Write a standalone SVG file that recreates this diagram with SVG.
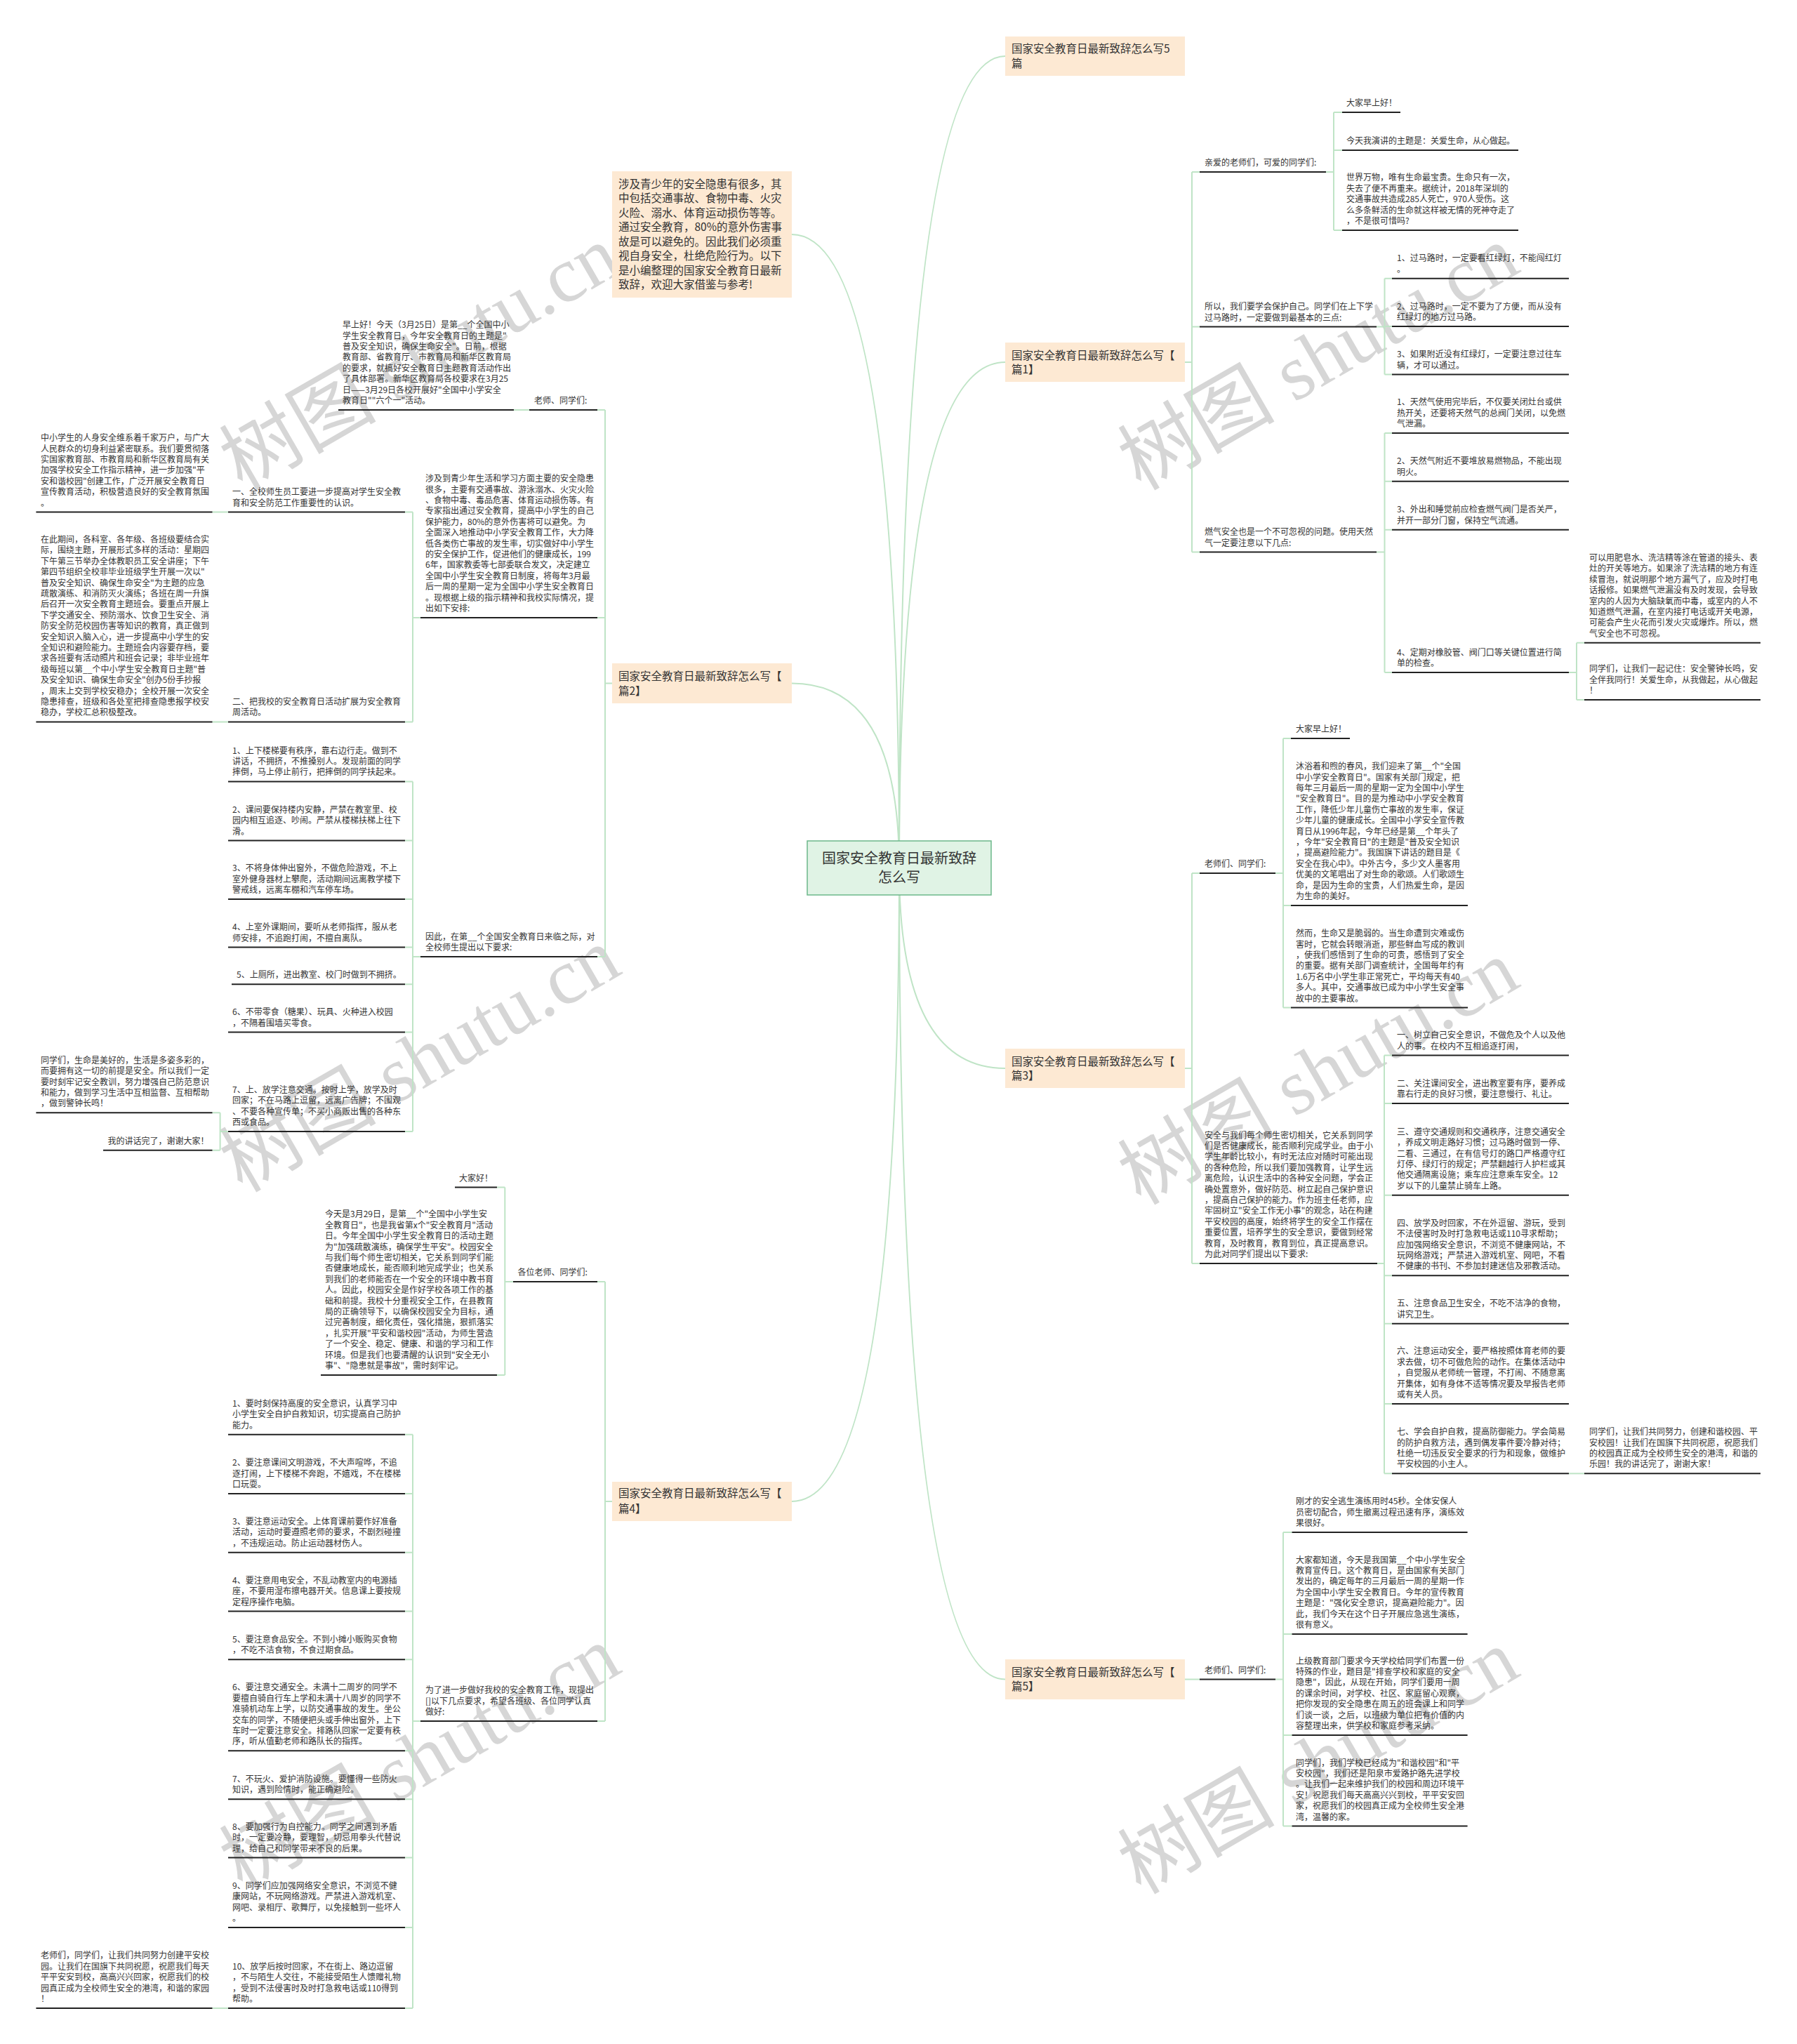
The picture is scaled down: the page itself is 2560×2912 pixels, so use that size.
<svg xmlns="http://www.w3.org/2000/svg" width="2560" height="2912" viewBox="0 0 2560 2912">
<style>
.t{font-family:"Noto Sans CJK SC","Liberation Sans",sans-serif;font-size:12px;fill:#333}
.h{font-family:"Noto Sans CJK SC","Liberation Sans",sans-serif;font-size:15.5px;fill:#333}
.c{font-family:"Noto Sans CJK SC","Liberation Sans",sans-serif;font-size:20px;fill:#333;text-anchor:middle}
.u{stroke:#222;stroke-width:2;fill:none}
.k{fill:none;stroke:#bfe4c6;stroke-width:2}
.b{fill:#fde9d3}
.w{font-family:"Liberation Serif","Noto Sans CJK SC",serif;font-size:112px;fill:#d6d6d6}
</style>
<rect width="2560" height="2912" fill="#ffffff"/>
<g id="watermarks">
<text class="w" transform="translate(345,700) rotate(-30)">树图 shutu.cn</text>
<text class="w" transform="translate(1625,700) rotate(-30)">树图 shutu.cn</text>
<text class="w" transform="translate(345,1700) rotate(-30)">树图 shutu.cn</text>
<text class="w" transform="translate(1625,1718) rotate(-30)">树图 shutu.cn</text>
<text class="w" transform="translate(345,2695) rotate(-30)">树图 shutu.cn</text>
<text class="w" transform="translate(1625,2700) rotate(-30)">树图 shutu.cn</text>
</g>
<g id="connectors">
<path class="k" d="M1281,1236 Q1281,80 1432,80"/>
<path class="k" d="M1281,1236 Q1281,516 1432,516"/>
<path class="k" d="M1281,1236 Q1281,1522 1432,1522"/>
<path class="k" d="M1281,1236 Q1281,2392.5 1432,2392.5"/>
<path class="k" d="M1281,1236 Q1281,334 1128,334"/>
<path class="k" d="M1281,1236 Q1281,973.5 1128,973.5"/>
<path class="k" d="M1281,1236 Q1281,2139 1128,2139"/>
<!-- pian1 -->
<path class="k" d="M1688,516 H1698 M1698,245 V786.5 M1698,245 H1709 M1698,465.6 H1709 M1698,786.5 H1709"/>
<path class="k" d="M1889,245 H1900 M1900,160 V328 M1900,160 H1912 M1900,214 H1912 M1900,328 H1912"/>
<path class="k" d="M1961,465.6 H1972.5 M1972.5,396.7 V533.6 M1972.5,396.7 H1983 M1972.5,465 H1983 M1972.5,533.6 H1983"/>
<path class="k" d="M1961,786.5 H1972.5 M1972.5,617 V958 M1972.5,617 H1983 M1972.5,685.7 H1983 M1972.5,754.7 H1983 M1972.5,958 H1983"/>
<path class="k" d="M2235,958 H2246 M2246,915.7 V997 M2246,915.7 H2257 M2246,997 H2257"/>
<!-- pian3 -->
<path class="k" d="M1688,1522 H1698 M1698,1244 V1800 M1698,1244 H1709 M1698,1800 H1709"/>
<path class="k" d="M1817,1244 H1828 M1828,1052 V1435.5 M1828,1052 H1839 M1828,1290 H1839 M1828,1435.5 H1839"/>
<path class="k" d="M1962,1800 H1972 M1972,1503.5 V2099.3 M1972,1503.5 H1983 M1972,1572 H1983 M1972,1702.7 H1983 M1972,1817.3 H1983 M1972,1885.7 H1983 M1972,2000 H1983 M1972,2099.3 H1983"/>
<path class="k" d="M2235,2099.3 H2257"/>
<!-- pian5 -->
<path class="k" d="M1687,2392.5 H1709"/>
<path class="k" d="M1817,2392.5 H1828 M1828,2183 V2601.5 M1828,2183 H1840.5 M1828,2328 H1840.5 M1828,2472 H1840.5 M1828,2601.5 H1840.5"/>
<!-- pian2 -->
<path class="k" d="M872,973.5 H862 M862,584 V1363 M862,584 H851 M862,880 H851 M862,1363 H851"/>
<path class="k" d="M754,584 H732"/>
<path class="k" d="M599,880 H588 M588,729.6 V1028.4 M588,729.6 H577 M588,1028.4 H577"/>
<path class="k" d="M325,729.6 H302.5 M325,1028.4 H302.5"/>
<path class="k" d="M599,1363 H588 M588,1113.4 V1612 M588,1113.4 H577 M588,1197.6 H577 M588,1281 H577 M588,1349.5 H577 M588,1402.3 H577 M588,1470.5 H577 M588,1612 H577"/>
<path class="k" d="M325,1612 H313.6 M313.6,1585.3 V1638.8 M313.6,1585.3 H302.5 M313.6,1638.8 H302.5"/>
<!-- pian4 -->
<path class="k" d="M872,2139 H862 M862,1826 V2452 M862,1826 H851 M862,2452 H851"/>
<path class="k" d="M731,1826 H719.3 M719.3,1691.5 V1959 M719.3,1691.5 H708 M719.3,1959 H708"/>
<path class="k" d="M599,2452 H588 M588,2043.8 V2861 M588,2043.8 H577 M588,2128 H577 M588,2211.8 H577 M588,2295.5 H577 M588,2364.2 H577 M588,2494.3 H577 M588,2563.2 H577 M588,2646.6 H577 M588,2746 H577 M588,2861 H577"/>
<path class="k" d="M325,2861 H302.5"/>
</g>
<g id="center">
<rect x="1150" y="1198" width="262" height="77" fill="#e0f3e5" stroke="#6cb88a" stroke-width="1.5"/>
<text class="c"><tspan x="1281" y="1230">国家安全教育日最新致辞</tspan><tspan x="1281" y="1257">怎么写</tspan></text>
</g>
<g id="intro">
<rect class="b" x="872" y="244" width="256" height="180"/>
<text class="h"><tspan x="881" y="267.5">涉及青少年的安全隐患有很多，其</tspan><tspan x="881" y="288">中包括交通事故、食物中毒、火灾</tspan><tspan x="881" y="308.5">火险、溺水、体育运动损伤等等。</tspan><tspan x="881" y="329">通过安全教育，80%的意外伤害事</tspan><tspan x="881" y="349.5">故是可以避免的。因此我们必须重</tspan><tspan x="881" y="370">视自身安全，杜绝危险行为。以下</tspan><tspan x="881" y="390.5">是小编整理的国家安全教育日最新</tspan><tspan x="881" y="411">致辞，欢迎大家借鉴与参考!</tspan></text>
</g>
<g id="pian5title">
<rect class="b" x="1432" y="52" width="256" height="56"/>
<text class="h"><tspan x="1441" y="74.5">国家安全教育日最新致辞怎么写5</tspan><tspan x="1441" y="95.5">篇</tspan></text>
</g>
<g id="pian1">
<rect class="b" x="1432" y="488" width="256" height="56"/>
<text class="h"><tspan x="1441" y="511.5">国家安全教育日最新致辞怎么写【</tspan><tspan x="1441" y="531.5">篇1】</tspan></text>
</g>
<g id="pian3">
<rect class="b" x="1432" y="1494" width="256" height="56"/>
<text class="h"><tspan x="1441" y="1517.5">国家安全教育日最新致辞怎么写【</tspan><tspan x="1441" y="1537.5">篇3】</tspan></text>
</g>
<g id="pian5">
<rect class="b" x="1432" y="2364" width="256" height="57"/>
<text class="h"><tspan x="1441" y="2387.5">国家安全教育日最新致辞怎么写【</tspan><tspan x="1441" y="2407.5">篇5】</tspan></text>
</g>
<g id="pian2">
<rect class="b" x="872" y="945" width="256" height="57"/>
<text class="h"><tspan x="881" y="968.5">国家安全教育日最新致辞怎么写【</tspan><tspan x="881" y="989.5">篇2】</tspan></text>
</g>
<g id="pian4">
<rect class="b" x="872" y="2111" width="256" height="56"/>
<text class="h"><tspan x="881" y="2133">国家安全教育日最新致辞怎么写【</tspan><tspan x="881" y="2154.5">篇4】</tspan></text>
</g>
<!-- pian1 leaves -->
<g id="p1a"><path class="u" d="M1709,245 H1889"/><text class="t"><tspan x="1716" y="236">亲爱的老师们，可爱的同学们:</tspan></text></g>
<g id="p1a1"><path class="u" d="M1912,160 H1995"/><text class="t"><tspan x="1918" y="151">大家早上好！</tspan></text></g>
<g id="p1a2"><path class="u" d="M1912,214 H2163"/><text class="t"><tspan x="1918" y="205">今天我演讲的主题是：关爱生命，从心做起。</tspan></text></g>
<g id="p1a3"><path class="u" d="M1912,328 H2163"/><text class="t"><tspan x="1918" y="257.4">世界万物，唯有生命最宝贵。生命只有一次，</tspan><tspan x="1918" y="272.8">失去了便不再重来。据统计，2018年深圳的</tspan><tspan x="1918" y="288.2">交通事故共造成285人死亡，970人受伤。这</tspan><tspan x="1918" y="303.6">么多条鲜活的生命就这样被无情的死神夺走了</tspan><tspan x="1918" y="319">，不是很可惜吗?</tspan></text></g>
<g id="p1b"><path class="u" d="M1709,465.6 H1961"/><text class="t"><tspan x="1716" y="441.2">所以，我们要学会保护自己。同学们在上下学</tspan><tspan x="1716" y="456.6">过马路时，一定要做到最基本的三点:</tspan></text></g>
<g id="p1b1"><path class="u" d="M1983,396.7 H2235"/><text class="t"><tspan x="1990" y="372.3">1、过马路时，一定要看红绿灯，不能闯红灯</tspan><tspan x="1990" y="387.7">。</tspan></text></g>
<g id="p1b2"><path class="u" d="M1983,465 H2235"/><text class="t"><tspan x="1990" y="440.6">2、过马路时，一定不要为了方便，而从没有</tspan><tspan x="1990" y="456">红绿灯的地方过马路。</tspan></text></g>
<g id="p1b3"><path class="u" d="M1983,533.6 H2235"/><text class="t"><tspan x="1990" y="509.2">3、如果附近没有红绿灯，一定要注意过往车</tspan><tspan x="1990" y="524.6">辆，才可以通过。</tspan></text></g>
<g id="p1c"><path class="u" d="M1709,786.5 H1961"/><text class="t"><tspan x="1716" y="762.1">燃气安全也是一个不可忽视的问题。使用天然</tspan><tspan x="1716" y="777.5">气一定要注意以下几点:</tspan></text></g>
<g id="p1c1"><path class="u" d="M1983,617 H2235"/><text class="t"><tspan x="1990" y="577.2">1、天然气使用完毕后，不仅要关闭灶台或供</tspan><tspan x="1990" y="592.6">热开关，还要将天然气的总阀门关闭，以免燃</tspan><tspan x="1990" y="608">气泄漏。</tspan></text></g>
<g id="p1c2"><path class="u" d="M1983,685.7 H2235"/><text class="t"><tspan x="1990" y="661.3">2、天然气附近不要堆放易燃物品，不能出现</tspan><tspan x="1990" y="676.7">明火。</tspan></text></g>
<g id="p1c3"><path class="u" d="M1983,754.7 H2235"/><text class="t"><tspan x="1990" y="730.3">3、外出和睡觉前应检查燃气阀门是否关严，</tspan><tspan x="1990" y="745.7">并开一部分门窗，保持空气流通。</tspan></text></g>
<g id="p1c4"><path class="u" d="M1983,958 H2235"/><text class="t"><tspan x="1990" y="933.6">4、定期对橡胶管、阀门口等关键位置进行简</tspan><tspan x="1990" y="949">单的检查。</tspan></text></g>
<g id="p1c4a"><path class="u" d="M2257,915.7 H2508"/><text class="t"><tspan x="2264" y="798.9">可以用肥皂水、洗洁精等涂在管道的接头、表</tspan><tspan x="2264" y="814.3">灶的开关等地方。如果涂了洗洁精的地方有连</tspan><tspan x="2264" y="829.7">续冒泡，就说明那个地方漏气了，应及时打电</tspan><tspan x="2264" y="845.1">话报修。如果燃气泄漏没有及时发现，会导致</tspan><tspan x="2264" y="860.5">室内的人因为大脑缺氧而中毒，或室内的人不</tspan><tspan x="2264" y="875.9">知道燃气泄漏，在室内接打电话或开关电源，</tspan><tspan x="2264" y="891.3">可能会产生火花而引发火灾或爆炸。所以，燃</tspan><tspan x="2264" y="906.7">气安全也不可忽视。</tspan></text></g>
<g id="p1c4b"><path class="u" d="M2257,997 H2508"/><text class="t"><tspan x="2264" y="957.2">同学们，让我们一起记住：安全警钟长鸣，安</tspan><tspan x="2264" y="972.6">全伴我同行！关爱生命，从我做起，从心做起</tspan><tspan x="2264" y="988">！</tspan></text></g>
<!-- pian3 leaves -->
<g id="p3a"><path class="u" d="M1709,1244 H1817"/><text class="t"><tspan x="1716" y="1235">老师们、同学们:</tspan></text></g>
<g id="p3a1"><path class="u" d="M1839,1052 H1923"/><text class="t"><tspan x="1846" y="1043">大家早上好！</tspan></text></g>
<g id="p3a2"><path class="u" d="M1839,1290 H2091"/><text class="t"><tspan x="1846" y="1096.2">沐浴着和煦的春风，我们迎来了第__个"全国</tspan><tspan x="1846" y="1111.6">中小学安全教育日"。国家有关部门规定，把</tspan><tspan x="1846" y="1127">每年三月最后一周的星期一定为全国中小学生</tspan><tspan x="1846" y="1142.4">"安全教育日"。目的是为推动中小学安全教育</tspan><tspan x="1846" y="1157.8">工作，降低少年儿童伤亡事故的发生率，保证</tspan><tspan x="1846" y="1173.2">少年儿童的健康成长。全国中小学安全宣传教</tspan><tspan x="1846" y="1188.6">育日从1996年起，今年已经是第__个年头了</tspan><tspan x="1846" y="1204">，今年"安全教育日"的主题是"普及安全知识</tspan><tspan x="1846" y="1219.4">，提高避险能力"。我国旗下讲话的题目是《</tspan><tspan x="1846" y="1234.8">安全在我心中》。中外古今，多少文人墨客用</tspan><tspan x="1846" y="1250.2">优美的文笔唱出了对生命的歌颂。人们歌颂生</tspan><tspan x="1846" y="1265.6">命，是因为生命的宝贵，人们热爱生命，是因</tspan><tspan x="1846" y="1281">为生命的美好。</tspan></text></g>
<g id="p3a3"><path class="u" d="M1839,1435.5 H2091"/><text class="t"><tspan x="1846" y="1334.1">然而，生命又是脆弱的。当生命遭到灾难或伤</tspan><tspan x="1846" y="1349.5">害时，它就会转眼消逝，那些鲜血写成的教训</tspan><tspan x="1846" y="1364.9">，使我们感悟到了生命的可贵，感悟到了安全</tspan><tspan x="1846" y="1380.3">的重要。据有关部门调查统计，全国每年约有</tspan><tspan x="1846" y="1395.7">1.6万名中小学生非正常死亡，平均每天有40</tspan><tspan x="1846" y="1411.1">多人。其中，交通事故已成为中小学生安全事</tspan><tspan x="1846" y="1426.5">故中的主要事故。</tspan></text></g>
<g id="p3b"><path class="u" d="M1709,1800 H1962"/><text class="t"><tspan x="1716" y="1621.6">安全与我们每个师生密切相关，它关系到同学</tspan><tspan x="1716" y="1637">们是否健康成长，能否顺利完成学业。由于小</tspan><tspan x="1716" y="1652.4">学生年龄比较小，有时无法应对随时可能出现</tspan><tspan x="1716" y="1667.8">的各种危险，所以我们要加强教育，让学生远</tspan><tspan x="1716" y="1683.2">离危险，认识生活中的各种安全问题，学会正</tspan><tspan x="1716" y="1698.6">确处置意外，做好防范、树立起自己保护意识</tspan><tspan x="1716" y="1714">，提高自己保护的能力。作为班主任老师，应</tspan><tspan x="1716" y="1729.4">牢固树立"安全工作无小事"的观念，站在构建</tspan><tspan x="1716" y="1744.8">平安校园的高度，始终将学生的安全工作摆在</tspan><tspan x="1716" y="1760.2">重要位置，培养学生的安全意识，要做到经常</tspan><tspan x="1716" y="1775.6">教育，及时教育，教育到位，真正提高意识。</tspan><tspan x="1716" y="1791">为此对同学们提出以下要求:</tspan></text></g>
<g id="p3b1"><path class="u" d="M1983,1503.5 H2235"/><text class="t"><tspan x="1990" y="1479.1">一、树立自己安全意识，不做危及个人以及他</tspan><tspan x="1990" y="1494.5">人的事。在校内不互相追逐打闹，</tspan></text></g>
<g id="p3b2"><path class="u" d="M1983,1572 H2235"/><text class="t"><tspan x="1990" y="1547.6">二、关注课间安全，进出教室要有序，要养成</tspan><tspan x="1990" y="1563">靠右行走的良好习惯，要注意慢行、礼让。</tspan></text></g>
<g id="p3b3"><path class="u" d="M1983,1702.7 H2235"/><text class="t"><tspan x="1990" y="1616.7">三、遵守交通规则和交通秩序，注意交通安全</tspan><tspan x="1990" y="1632.1">，养成文明走路好习惯；过马路时做到一停、</tspan><tspan x="1990" y="1647.5">二看、三通过，在有信号灯的路口严格遵守红</tspan><tspan x="1990" y="1662.9">灯停、绿灯行的规定；严禁翻越行人护栏或其</tspan><tspan x="1990" y="1678.3">他交通隔离设施；乘车应注意乘车安全。12</tspan><tspan x="1990" y="1693.7">岁以下的儿童禁止骑车上路。</tspan></text></g>
<g id="p3b4"><path class="u" d="M1983,1817.3 H2235"/><text class="t"><tspan x="1990" y="1746.7">四、放学及时回家，不在外逗留、游玩，受到</tspan><tspan x="1990" y="1762.1">不法侵害时及时打急救电话或110寻求帮助；</tspan><tspan x="1990" y="1777.5">应加强网络安全意识，不浏览不健康网站，不</tspan><tspan x="1990" y="1792.9">玩网络游戏；严禁进入游戏机室、网吧，不看</tspan><tspan x="1990" y="1808.3">不健康的书刊、不参加封建迷信及邪教活动。</tspan></text></g>
<g id="p3b5"><path class="u" d="M1983,1885.7 H2235"/><text class="t"><tspan x="1990" y="1861.3">五、注意食品卫生安全，不吃不洁净的食物，</tspan><tspan x="1990" y="1876.7">讲究卫生。</tspan></text></g>
<g id="p3b6"><path class="u" d="M1983,2000 H2235"/><text class="t"><tspan x="1990" y="1929.4">六、注意运动安全，要严格按照体育老师的要</tspan><tspan x="1990" y="1944.8">求去做，切不可做危险的动作。在集体活动中</tspan><tspan x="1990" y="1960.2">，自觉服从老师统一管理，不打闹、不随意离</tspan><tspan x="1990" y="1975.6">开集体，如有身体不适等情况要及早报告老师</tspan><tspan x="1990" y="1991">或有关人员。</tspan></text></g>
<g id="p3b7"><path class="u" d="M1983,2099.3 H2235"/><text class="t"><tspan x="1990" y="2044.1">七、学会自护自救，提高防御能力。学会简易</tspan><tspan x="1990" y="2059.5">的防护自救方法，遇到偶发事件要冷静对待；</tspan><tspan x="1990" y="2074.9">杜绝一切违反安全要求的行为和现象，做维护</tspan><tspan x="1990" y="2090.3">平安校园的小主人。</tspan></text></g>
<g id="p3b7a"><path class="u" d="M2257,2099.3 H2508"/><text class="t"><tspan x="2264" y="2044.1">同学们，让我们共同努力，创建和谐校园、平</tspan><tspan x="2264" y="2059.5">安校园！让我们在国旗下共同祝愿，祝愿我们</tspan><tspan x="2264" y="2074.9">的校园真正成为全校师生安全的港湾，和谐的</tspan><tspan x="2264" y="2090.3">乐园！我的讲话完了，谢谢大家！</tspan></text></g>
<!-- pian5 leaves -->
<g id="p5a"><path class="u" d="M1709,2392.5 H1817"/><text class="t"><tspan x="1716" y="2383.5">老师们、同学们:</tspan></text></g>
<g id="p5a1"><path class="u" d="M1840.5,2183 H2090.6"/><text class="t"><tspan x="1846" y="2143.2">刚才的安全逃生演练用时45秒。全体安保人</tspan><tspan x="1846" y="2158.6">员密切配合，师生撤离过程迅速有序，演练效</tspan><tspan x="1846" y="2174">果很好。</tspan></text></g>
<g id="p5a2"><path class="u" d="M1840.5,2328 H2090.6"/><text class="t"><tspan x="1846" y="2226.6">大家都知道，今天是我国第__个中小学生安全</tspan><tspan x="1846" y="2242">教育宣传日。这个教育日，是由国家有关部门</tspan><tspan x="1846" y="2257.4">发出的，确定每年的三月最后一周的星期一作</tspan><tspan x="1846" y="2272.8">为全国中小学生安全教育日。今年的宣传教育</tspan><tspan x="1846" y="2288.2">主题是："强化安全意识，提高避险能力"。因</tspan><tspan x="1846" y="2303.6">此，我们今天在这个日子开展应急逃生演练，</tspan><tspan x="1846" y="2319">很有意义。</tspan></text></g>
<g id="p5a3"><path class="u" d="M1840.5,2472 H2090.6"/><text class="t"><tspan x="1846" y="2370.6">上级教育部门要求今天学校给同学们布置一份</tspan><tspan x="1846" y="2386">特殊的作业，题目是"排查学校和家庭的安全</tspan><tspan x="1846" y="2401.4">隐患"，因此，从现在开始，同学们要用一周</tspan><tspan x="1846" y="2416.8">的课余时间，对学校、社区、家庭留心观察，</tspan><tspan x="1846" y="2432.2">把你发现的安全隐患在周五的班会课上和同学</tspan><tspan x="1846" y="2447.6">们谈一谈，之后，以班级为单位把有价值的内</tspan><tspan x="1846" y="2463">容整理出来，供学校和家庭参考采纳。</tspan></text></g>
<g id="p5a4"><path class="u" d="M1840.5,2601.5 H2090.6"/><text class="t"><tspan x="1846" y="2515.5">同学们，我们学校已经成为"和谐校园"和"平</tspan><tspan x="1846" y="2530.9">安校园"，我们还是阳泉市爱路护路先进学校</tspan><tspan x="1846" y="2546.3">。让我们一起来维护我们的校园和周边环境平</tspan><tspan x="1846" y="2561.7">安！祝愿我们每天高高兴兴到校，平平安安回</tspan><tspan x="1846" y="2577.1">家，祝愿我们的校园真正成为全校师生安全港</tspan><tspan x="1846" y="2592.5">湾，温馨的家。</tspan></text></g>
<!-- pian2 leaves -->
<g id="p2a"><path class="u" d="M754,584 H851"/><text class="t"><tspan x="761" y="575">老师、同学们:</tspan></text></g>
<g id="p2a1"><path class="u" d="M482,584 H732"/><text class="t"><tspan x="488" y="467.2">早上好！今天（3月25日）是第__个全国中小</tspan><tspan x="488" y="482.6">学生安全教育日，今年安全教育日的主题是"</tspan><tspan x="488" y="498">普及安全知识，确保生命安全"。日前，根据</tspan><tspan x="488" y="513.4">教育部、省教育厅、市教育局和新华区教育局</tspan><tspan x="488" y="528.8">的要求，就搞好安全教育日主题教育活动作出</tspan><tspan x="488" y="544.2">了具体部署。新华区教育局各校要求在3月25</tspan><tspan x="488" y="559.6">日——3月29日各校开展好"全国中小学安全</tspan><tspan x="488" y="575">教育日""六个一"活动。</tspan></text></g>
<g id="p2b"><path class="u" d="M599,880 H851"/><text class="t"><tspan x="606" y="686.2">涉及到青少年生活和学习方面主要的安全隐患</tspan><tspan x="606" y="701.6">很多，主要有交通事故、游泳溺水、火灾火险</tspan><tspan x="606" y="717">、食物中毒、毒品危害、体育运动损伤等。有</tspan><tspan x="606" y="732.4">专家指出通过安全教育，提高中小学生的自己</tspan><tspan x="606" y="747.8">保护能力，80%的意外伤害将可以避免。为</tspan><tspan x="606" y="763.2">全面深入地推动中小学安全教育工作，大力降</tspan><tspan x="606" y="778.6">低各类伤亡事故的发生率，切实做好中小学生</tspan><tspan x="606" y="794">的安全保护工作，促进他们的健康成长，199</tspan><tspan x="606" y="809.4">6年，国家教委等七部委联合发文，决定建立</tspan><tspan x="606" y="824.8">全国中小学生安全教育日制度，将每年3月最</tspan><tspan x="606" y="840.2">后一周的星期一定为全国中小学生安全教育日</tspan><tspan x="606" y="855.6">。现根据上级的指示精神和我校实际情况，提</tspan><tspan x="606" y="871">出如下安排:</tspan></text></g>
<g id="p2b1"><path class="u" d="M325,729.6 H577"/><text class="t"><tspan x="331" y="705.2">一、全校师生员工要进一步提高对学生安全教</tspan><tspan x="331" y="720.6">育和安全防范工作重要性的认识。</tspan></text></g>
<g id="p2b1a"><path class="u" d="M51.4,729.6 H302.5"/><text class="t"><tspan x="58" y="628.2">中小学生的人身安全维系着千家万户，与广大</tspan><tspan x="58" y="643.6">人民群众的切身利益紧密联系。我们要贯彻落</tspan><tspan x="58" y="659">实国家教育部、市教育局和新华区教育局有关</tspan><tspan x="58" y="674.4">加强学校安全工作指示精神，进一步加强"平</tspan><tspan x="58" y="689.8">安和谐校园"创建工作，广泛开展安全教育日</tspan><tspan x="58" y="705.2">宣传教育活动，积极营造良好的安全教育氛围</tspan><tspan x="58" y="720.6">。</tspan></text></g>
<g id="p2b2"><path class="u" d="M325,1028.4 H577"/><text class="t"><tspan x="331" y="1004">二、把我校的安全教育日活动扩展为安全教育</tspan><tspan x="331" y="1019.4">周活动。</tspan></text></g>
<g id="p2b2a"><path class="u" d="M51.4,1028.4 H302.5"/><text class="t"><tspan x="58" y="773">在此期间，各科室、各年级、各班级要结合实</tspan><tspan x="58" y="788.4">际，围绕主题，开展形式多样的活动：星期四</tspan><tspan x="58" y="803.8">下午第三节举办全体教职员工安全讲座；下午</tspan><tspan x="58" y="819.2">第四节组织全校非毕业班级学生开展一次以"</tspan><tspan x="58" y="834.6">普及安全知识、确保生命安全"为主题的应急</tspan><tspan x="58" y="850">疏散演练、和消防灭火演练；各班在周一升旗</tspan><tspan x="58" y="865.4">后召开一次安全教育主题班会。要重点开展上</tspan><tspan x="58" y="880.8">下学交通安全、预防溺水、饮食卫生安全、消</tspan><tspan x="58" y="896.2">防安全防范校园伤害等知识的教育，真正做到</tspan><tspan x="58" y="911.6">安全知识入脑入心，进一步提高中小学生的安</tspan><tspan x="58" y="927">全知识和避险能力。主题班会内容要存档，要</tspan><tspan x="58" y="942.4">求各班要有活动照片和班会记录；非毕业班年</tspan><tspan x="58" y="957.8">级每班以第__个中小学生安全教育日主题"普</tspan><tspan x="58" y="973.2">及安全知识、确保生命安全"创办5份手抄报</tspan><tspan x="58" y="988.6">，周末上交到学校安稳办；全校开展一次安全</tspan><tspan x="58" y="1004">隐患排查，班级和各处室把排查隐患报学校安</tspan><tspan x="58" y="1019.4">稳办，学校汇总积极整改。</tspan></text></g>
<g id="p2c"><path class="u" d="M599,1363 H851"/><text class="t"><tspan x="606" y="1338.6">因此，在第__个全国安全教育日来临之际，对</tspan><tspan x="606" y="1354">全校师生提出以下要求:</tspan></text></g>
<g id="p2c1"><path class="u" d="M325,1113.4 H577"/><text class="t"><tspan x="331" y="1073.6">1、上下楼梯要有秩序，靠右边行走。做到不</tspan><tspan x="331" y="1089">讲话，不拥挤，不推搡别人。发现前面的同学</tspan><tspan x="331" y="1104.4">摔倒，马上停止前行，把摔倒的同学扶起来。</tspan></text></g>
<g id="p2c2"><path class="u" d="M325,1197.6 H577"/><text class="t"><tspan x="331" y="1157.8">2、课间要保持楼内安静，严禁在教室里、校</tspan><tspan x="331" y="1173.2">园内相互追逐、吵闹。严禁从楼梯扶梯上往下</tspan><tspan x="331" y="1188.6">滑。</tspan></text></g>
<g id="p2c3"><path class="u" d="M325,1281 H577"/><text class="t"><tspan x="331" y="1241.2">3、不将身体伸出窗外，不做危险游戏，不上</tspan><tspan x="331" y="1256.6">室外健身器材上攀爬，活动期间远离教学楼下</tspan><tspan x="331" y="1272">警戒线，远离车棚和汽车停车场。</tspan></text></g>
<g id="p2c4"><path class="u" d="M325,1349.5 H577"/><text class="t"><tspan x="331" y="1325.1">4、上室外课期间，要听从老师指挥，服从老</tspan><tspan x="331" y="1340.5">师安排，不追跑打闹，不擅自离队。</tspan></text></g>
<g id="p2c5"><path class="u" d="M330,1402.3 H577"/><text class="t"><tspan x="337" y="1393.3">5、上厕所，进出教室、校门时做到不拥挤。</tspan></text></g>
<g id="p2c6"><path class="u" d="M325,1470.5 H577"/><text class="t"><tspan x="331" y="1446.1">6、不带零食（糖果）、玩具、火种进入校园</tspan><tspan x="331" y="1461.5">，不隔着围墙买零食。</tspan></text></g>
<g id="p2c7"><path class="u" d="M325,1612 H577"/><text class="t"><tspan x="331" y="1556.8">7、上、放学注意交通。按时上学，放学及时</tspan><tspan x="331" y="1572.2">回家；不在马路上逗留，远离广告牌；不围观</tspan><tspan x="331" y="1587.6">、不要各种宣传单；不买小商贩出售的各种东</tspan><tspan x="331" y="1603">西或食品。</tspan></text></g>
<g id="p2c7a"><path class="u" d="M51.4,1585.3 H302.5"/><text class="t"><tspan x="58" y="1514.7">同学们，生命是美好的，生活是多姿多彩的，</tspan><tspan x="58" y="1530.1">而要拥有这一切的前提是安全。所以我们一定</tspan><tspan x="58" y="1545.5">要时刻牢记安全教训，努力增强自己防范意识</tspan><tspan x="58" y="1560.9">和能力，做到学习生活中互相监督、互相帮助</tspan><tspan x="58" y="1576.3">，做到警钟长鸣！</tspan></text></g>
<g id="p2c7b"><path class="u" d="M147,1638.8 H302.5"/><text class="t"><tspan x="153.6" y="1629.8">我的讲话完了，谢谢大家！</tspan></text></g>
<!-- pian4 leaves -->
<g id="p4a"><path class="u" d="M731,1826 H851"/><text class="t"><tspan x="737.5" y="1817">各位老师、同学们:</tspan></text></g>
<g id="p4a1"><path class="u" d="M648,1691.5 H708"/><text class="t"><tspan x="654" y="1682.5">大家好！</tspan></text></g>
<g id="p4a2"><path class="u" d="M457,1959 H708"/><text class="t"><tspan x="463" y="1734.4">今天是3月29日，是第__个"全国中小学生安</tspan><tspan x="463" y="1749.8">全教育日"，也是我省第x个"安全教育月"活动</tspan><tspan x="463" y="1765.2">日。今年全国中小学生安全教育日的活动主题</tspan><tspan x="463" y="1780.6">为"加强疏散演练，确保学生平安"。校园安全</tspan><tspan x="463" y="1796">与我们每个师生密切相关，它关系到同学们能</tspan><tspan x="463" y="1811.4">否健康地成长，能否顺利地完成学业；也关系</tspan><tspan x="463" y="1826.8">到我们的老师能否在一个安全的环境中教书育</tspan><tspan x="463" y="1842.2">人。因此，校园安全是作好学校各项工作的基</tspan><tspan x="463" y="1857.6">础和前提。我校十分重视安全工作，在县教育</tspan><tspan x="463" y="1873">局的正确领导下，以确保校园安全为目标，通</tspan><tspan x="463" y="1888.4">过完善制度，细化责任，强化措施，狠抓落实</tspan><tspan x="463" y="1903.8">，扎实开展"平安和谐校园"活动，为师生营造</tspan><tspan x="463" y="1919.2">了一个安全、稳定、健康、和谐的学习和工作</tspan><tspan x="463" y="1934.6">环境。但是我们也要清醒的认识到"安全无小</tspan><tspan x="463" y="1950">事"、"隐患就是事故"，需时刻牢记。</tspan></text></g>
<g id="p4b"><path class="u" d="M599,2452 H851"/><text class="t"><tspan x="606" y="2412.2">为了进一步做好我校的安全教育工作，现提出</tspan><tspan x="606" y="2427.6">[]以下几点要求，希望各班级、各位同学认真</tspan><tspan x="606" y="2443">做好:</tspan></text></g>
<g id="p4b1"><path class="u" d="M325,2043.8 H577"/><text class="t"><tspan x="331" y="2004">1、要时刻保持高度的安全意识，认真学习中</tspan><tspan x="331" y="2019.4">小学生安全自护自救知识，切实提高自己防护</tspan><tspan x="331" y="2034.8">能力。</tspan></text></g>
<g id="p4b2"><path class="u" d="M325,2128 H577"/><text class="t"><tspan x="331" y="2088.2">2、要注意课间文明游戏，不大声喧哗，不追</tspan><tspan x="331" y="2103.6">逐打闹，上下楼梯不奔跑，不嬉戏，不在楼梯</tspan><tspan x="331" y="2119">口玩耍。</tspan></text></g>
<g id="p4b3"><path class="u" d="M325,2211.8 H577"/><text class="t"><tspan x="331" y="2172">3、要注意运动安全。上体育课前要作好准备</tspan><tspan x="331" y="2187.4">活动，运动时要遵照老师的要求，不剧烈碰撞</tspan><tspan x="331" y="2202.8">，不违规运动。防止运动器材伤人。</tspan></text></g>
<g id="p4b4"><path class="u" d="M325,2295.5 H577"/><text class="t"><tspan x="331" y="2255.7">4、要注意用电安全，不乱动教室内的电源插</tspan><tspan x="331" y="2271.1">座，不要用湿布擦电器开关。信息课上要按规</tspan><tspan x="331" y="2286.5">定程序操作电脑。</tspan></text></g>
<g id="p4b5"><path class="u" d="M325,2364.2 H577"/><text class="t"><tspan x="331" y="2339.8">5、要注意食品安全。不到小摊小贩购买食物</tspan><tspan x="331" y="2355.2">，不吃不洁食物，不食过期食品。</tspan></text></g>
<g id="p4b6"><path class="u" d="M325,2494.3 H577"/><text class="t"><tspan x="331" y="2408.3">6、要注意交通安全。未满十二周岁的同学不</tspan><tspan x="331" y="2423.7">要擅自骑自行车上学和未满十八周岁的同学不</tspan><tspan x="331" y="2439.1">准骑机动车上学，以防交通事故的发生。坐公</tspan><tspan x="331" y="2454.5">交车的同学，不随便把头或手伸出窗外，上下</tspan><tspan x="331" y="2469.9">车时一定要注意安全。排路队回家一定要有秩</tspan><tspan x="331" y="2485.3">序，听从值勤老师和路队长的指挥。</tspan></text></g>
<g id="p4b7"><path class="u" d="M325,2563.2 H577"/><text class="t"><tspan x="331" y="2538.8">7、不玩火、爱护消防设施。要懂得一些防火</tspan><tspan x="331" y="2554.2">知识，遇到险情时，能正确避险。</tspan></text></g>
<g id="p4b8"><path class="u" d="M325,2646.6 H577"/><text class="t"><tspan x="331" y="2606.8">8、要加强行为自控能力。同学之间遇到矛盾</tspan><tspan x="331" y="2622.2">时，一定要冷静，要理智，切忌用拳头代替说</tspan><tspan x="331" y="2637.6">理，给自己和同学带来不良的后果。</tspan></text></g>
<g id="p4b9"><path class="u" d="M325,2746 H577"/><text class="t"><tspan x="331" y="2690.8">9、同学们应加强网络安全意识，不浏览不健</tspan><tspan x="331" y="2706.2">康网站，不玩网络游戏。严禁进入游戏机室、</tspan><tspan x="331" y="2721.6">网吧、录相厅、歌舞厅，以免接触到一些坏人</tspan><tspan x="331" y="2737">。</tspan></text></g>
<g id="p4b10"><path class="u" d="M325,2861 H577"/><text class="t"><tspan x="331" y="2805.8">10、放学后按时回家，不在街上、路边逗留</tspan><tspan x="331" y="2821.2">，不与陌生人交往，不能接受陌生人馈赠礼物</tspan><tspan x="331" y="2836.6">，受到不法侵害时及时打急救电话或110得到</tspan><tspan x="331" y="2852">帮助。</tspan></text></g>
<g id="p4b10a"><path class="u" d="M51.4,2861 H302.5"/><text class="t"><tspan x="58" y="2790.4">老师们，同学们，让我们共同努力创建平安校</tspan><tspan x="58" y="2805.8">园。让我们在国旗下共同祝愿，祝愿我们每天</tspan><tspan x="58" y="2821.2">平平安安到校，高高兴兴回家，祝愿我们的校</tspan><tspan x="58" y="2836.6">园真正成为全校师生安全的港湾，和谐的家园</tspan><tspan x="58" y="2852">！</tspan></text></g>
</svg>
